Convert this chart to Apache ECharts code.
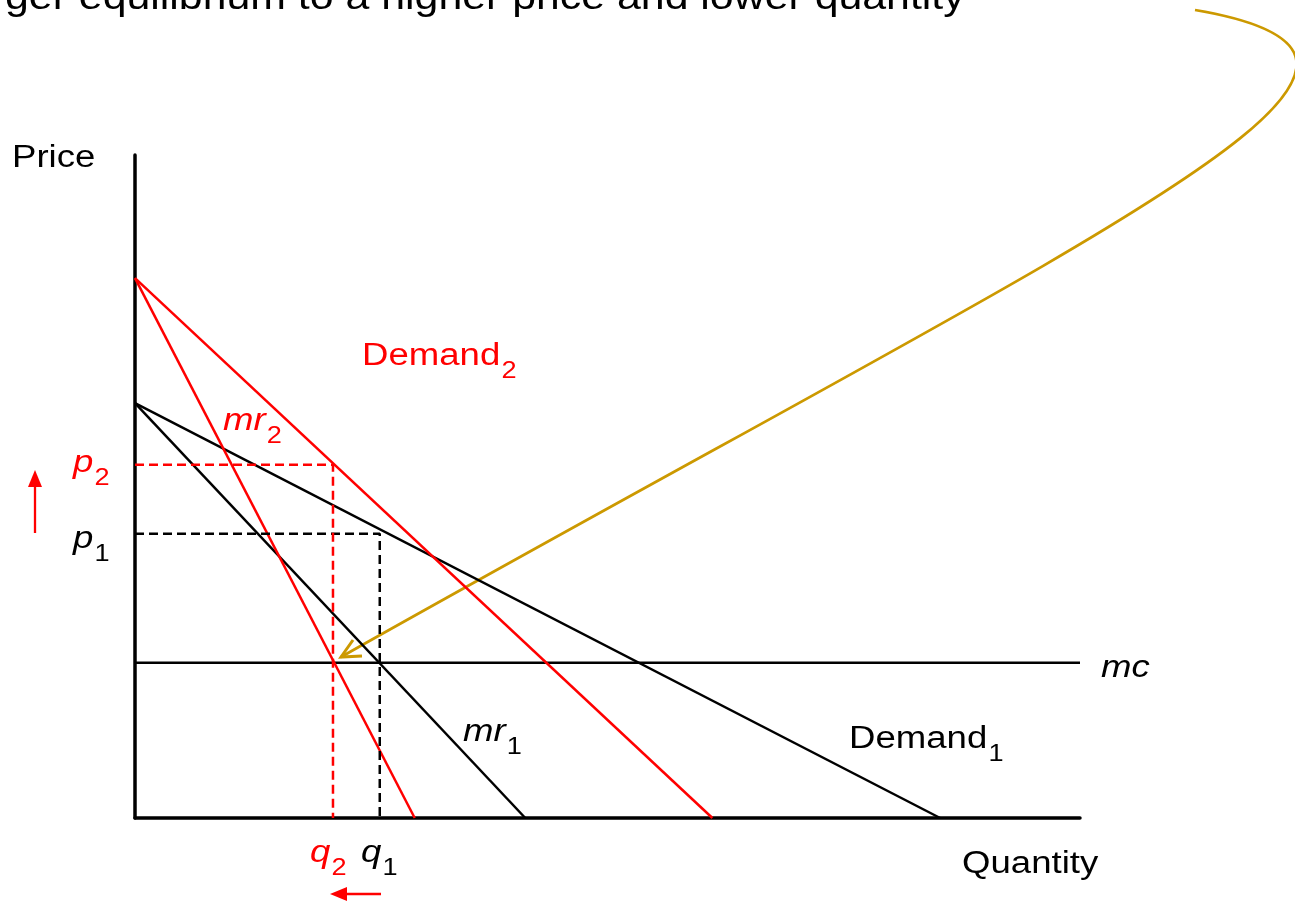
<!DOCTYPE html>
<html>
<head>
<meta charset="utf-8">
<title>Monopoly demand shift</title>
<script src="https://cdn.jsdelivr.net/npm/echarts@6/dist/echarts.min.js"></script>
<style>
  html, body { margin: 0; padding: 0; background: #fff; }
  #chart { width: 1295px; height: 901px; }
</style>
</head>
<body>
<div id="chart"></div>
<script>
// line end points (quantity, price)
var demand1 = [[0, 43.8], [85.2, 0]];
var mr1 = [[0, 43.8], [41.3, 0]];
var demand2 = [[0, 57.0], [61.1, 0]];
var mr2 = [[0, 57.0], [29.6, 0]];
var mcLevel = 16.4;
var p1 = 30.0, q1 = 25.9;
var p2 = 37.3, q2 = 20.95;

var RED = '#ff0000';
var GOLD = '#cc9900';
var FONT = '"Liberation Sans", Arial, sans-serif';
var SX = 1.18; // picture is stretched sideways

var chart = echarts.init(document.getElementById('chart'));

function lineSeries(data, color, dashed) {
  return {
    type: 'line',
    data: data,
    symbol: 'none',
    silent: true,
    animation: false,
    lineStyle: { color: color, width: 2.5, type: dashed ? [9, 5] : 'solid' }
  };
}

// text label, x = left edge, base = baseline of main text
function label(x, base, main, sub, color, italic) {
  var txt = sub ? '{m|' + main + '}{s|' + sub + '}' : '{m|' + main + '}';
  return {
    type: 'text',
    x: x, y: base - 24,
    scaleX: SX,
    silent: true,
    style: {
      text: txt,
      align: 'left',
      verticalAlign: 'top',
      rich: {
        m: { fontSize: 31, fontFamily: FONT, fontStyle: italic ? 'italic' : 'normal', fill: color, lineHeight: 36, verticalAlign: 'top' },
        s: { fontSize: 23, fontFamily: FONT, fill: color, lineHeight: 24, verticalAlign: 'top', padding: [19, 0, 0, 1] }
      }
    }
  };
}

var option = {
  backgroundColor: '#fff',
  animation: false,
  grid: { left: 135, right: 215, top: 155, bottom: 83 },
  xAxis: {
    type: 'value', min: 0, max: 100,
    axisLine: { show: true, onZero: false, lineStyle: { color: '#000', width: 3.5 } },
    axisTick: { show: false }, axisLabel: { show: false }, splitLine: { show: false }
  },
  yAxis: {
    type: 'value', min: 0, max: 70,
    axisLine: { show: true, onZero: false, lineStyle: { color: '#000', width: 3.5 } },
    axisTick: { show: false }, axisLabel: { show: false }, splitLine: { show: false }
  },
  series: [
    lineSeries([[0, mcLevel], [100, mcLevel]], '#000'),
    lineSeries(demand1, '#000'),
    lineSeries(mr1, '#000'),
    lineSeries(demand2, RED),
    lineSeries(mr2, RED),
    lineSeries([[0, p1], [q1, p1], [q1, 0]], '#000', true),
    lineSeries([[0, p2], [q2, p2], [q2, 0]], RED, true)
  ],
  graphic: [
    {
      type: 'text', x: 5, y: -22, scaleX: 1.19, silent: true,
      style: { text: 'ger equilibrium to a higher price and lower quantity', fontSize: 36, lineHeight: 42, fontFamily: FONT, fill: '#000', align: 'left', verticalAlign: 'top' }
    },
    label(12, 167, 'Price', '', '#000', false),
    label(962, 873, 'Quantity', '', '#000', false),
    label(362, 365, 'Demand', '2', RED, false),
    label(223, 430, 'mr', '2', RED, true),
    label(73, 472, 'p', '2', RED, true),
    label(73, 548, 'p', '1', '#000', true),
    label(1101, 677, 'mc', '', '#000', true),
    label(463, 741, 'mr', '1', '#000', true),
    label(849, 748, 'Demand', '1', '#000', false),
    label(310, 862, 'q', '2', RED, true),
    label(361, 862, 'q', '1', '#000', true),
    // red arrows beside the axes
    { type: 'line', silent: true, shape: { x1: 35, y1: 533, x2: 35, y2: 484 }, style: { stroke: RED, lineWidth: 2.3 } },
    { type: 'polygon', silent: true, shape: { points: [[35, 470], [28, 487], [42, 487]] }, style: { fill: RED } },
    { type: 'line', silent: true, shape: { x1: 381, y1: 894, x2: 345, y2: 894 }, style: { stroke: RED, lineWidth: 2.3 } },
    { type: 'polygon', silent: true, shape: { points: [[330, 894], [347, 887], [347, 901]] }, style: { fill: RED } },
    // gold curved arrow
    {
      type: 'bezierCurve', silent: true,
      shape: { x1: 1195, y1: 10, cpx1: 1490, cpy1: 60, cpx2: 1124, cpy2: 216, x2: 341, y2: 657 },
      style: { stroke: GOLD, lineWidth: 2.7, fill: null }
    },
    {
      type: 'polyline', silent: true,
      shape: { points: [[353, 640], [341, 657], [362, 656]] },
      style: { stroke: GOLD, lineWidth: 3, fill: null }
    }
  ]
};

chart.setOption(option);
</script>
</body>
</html>
